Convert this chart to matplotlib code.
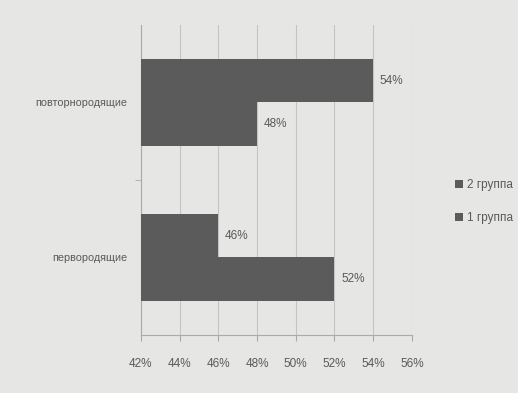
import matplotlib
matplotlib.use("Agg")
import matplotlib.pyplot as plt
from matplotlib.ticker import FixedLocator

categories = ["первородящие", "повторнородящие"]
group1 = [52, 48]   # "1 группа" (lower bar in each category)
group2 = [46, 54]   # "2 группа" (upper bar in each category)
xticks = [42, 44, 46, 48, 50, 52, 54, 56]
series_names = ["1 группа", "2 группа"]

bg = "#e6e6e4"
bar_col = "#5b5b5b"
txt = "#5a5a5a"
grid_col = "#c4c4c4"

plt.rcParams['font.family'] = ['Liberation Sans', 'DejaVu Sans']

fig = plt.figure(figsize=(5.18, 3.93), dpi=100, facecolor=bg)
ax = fig.add_axes([0.272, 0.148, 0.523, 0.789], facecolor=bg)

h = 0.28
y = list(range(len(categories)))
y1 = [v - h / 2 for v in y]
y2 = [v + h / 2 for v in y]
b1 = ax.barh(y1, [v - 42 for v in group1], left=42, height=h, color=bar_col, label=series_names[0], zorder=3)
b2 = ax.barh(y2, [v - 42 for v in group2], left=42, height=h, color=bar_col, label=series_names[1], zorder=3)

for yy, v in zip(y1, group1):
    ax.text(v + 0.35, yy, f"{v}%", va="center", ha="left", fontsize=8.5, color=txt)
for yy, v in zip(y2, group2):
    ax.text(v + 0.35, yy, f"{v}%", va="center", ha="left", fontsize=8.5, color=txt)

ax.set_xlim(42, 56)
ax.set_ylim(-0.5, 1.5)
ax.set_xticks(xticks)
ax.set_xticklabels([f"{t}%" for t in xticks], fontsize=8.5, color=txt)
ax.set_yticks(y)
ax.set_yticklabels(categories, fontsize=7.8, color=txt)
ax.tick_params(axis="y", length=0, pad=10)
ax.tick_params(axis="x", length=4, color="#aaaaaa", pad=13)
ax.yaxis.set_minor_locator(FixedLocator([0.5]))
ax.tick_params(axis="y", which="minor", length=4, color="#aaaaaa")
ax.xaxis.grid(True, color=grid_col, linewidth=0.8, zorder=0)
for s in ["top", "right"]:
    ax.spines[s].set_visible(False)
ax.spines["left"].set_color("#aaaaaa")
ax.spines["bottom"].set_color("#aaaaaa")

leg = fig.legend(handles=[b2, b1], labels=[series_names[1], series_names[0]],
                 loc="center left", bbox_to_anchor=(0.858, 0.487), frameon=False,
                 fontsize=8.5, handlelength=0.7, handleheight=0.7, handletextpad=0.3,
                 labelspacing=1.75, labelcolor=txt)

fig.savefig("out.png", dpi=100, facecolor=bg)
